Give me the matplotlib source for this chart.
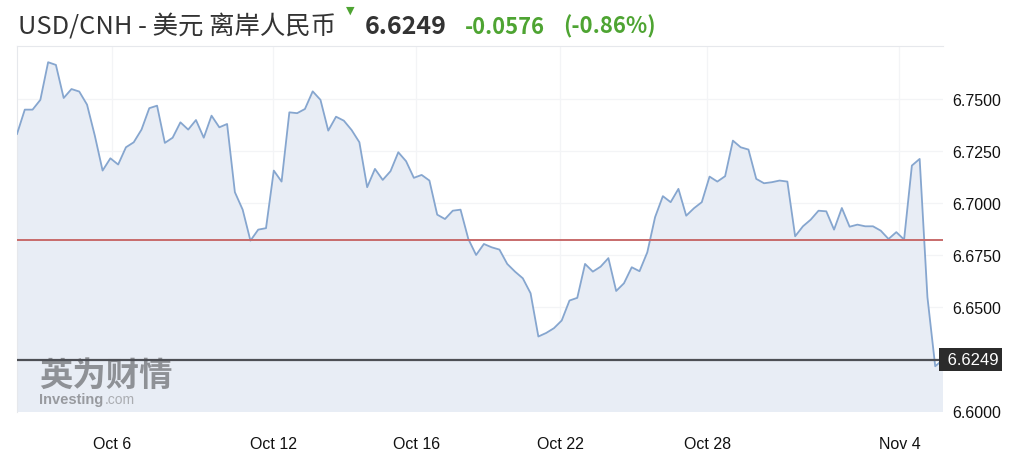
import matplotlib
matplotlib.use("Agg")
import matplotlib.pyplot as plt
import numpy as np

plt.rcParams['font.family'] = ['Liberation Sans', 'DejaVu Sans']

# USD/CNH, roughly 4-hour closes from early Oct to Nov 4
prices = [
    6.7334, 6.7451, 6.7451, 6.7498, 6.7679, 6.7666, 6.7507, 6.7550, 6.7538, 6.7475,
    6.7326, 6.7158, 6.7217, 6.7187, 6.7270, 6.7294, 6.7355, 6.7458, 6.7470, 6.7291,
    6.7316, 6.7390, 6.7355, 6.7401, 6.7316, 6.7422, 6.7366, 6.7382, 6.7054, 6.6970,
    6.6821, 6.6874, 6.6881, 6.7158, 6.7105, 6.7438, 6.7434, 6.7454, 6.7539, 6.7498,
    6.7350, 6.7417, 6.7398, 6.7353, 6.7294, 6.7078, 6.7166, 6.7113, 6.7155, 6.7246,
    6.7203, 6.7123, 6.7137, 6.7110, 6.6946, 6.6925, 6.6965, 6.6970, 6.6829, 6.6752,
    6.6805, 6.6789, 6.6778, 6.6709, 6.6672, 6.6640, 6.6568, 6.6360, 6.6377, 6.6400,
    6.6437, 6.6533, 6.6546, 6.6709, 6.6672, 6.6696, 6.6737, 6.6579, 6.6616, 6.6693,
    6.6674, 6.6765, 6.6934, 6.7035, 6.7006, 6.7070, 6.6941, 6.6977, 6.7006, 6.7129,
    6.7105, 6.7131, 6.7302, 6.7270, 6.7259, 6.7118, 6.7097, 6.7102, 6.7110, 6.7105,
    6.6842, 6.6890, 6.6922, 6.6965, 6.6962, 6.6874, 6.6978, 6.6888, 6.6898, 6.6890,
    6.6890, 6.6869, 6.6829, 6.6862, 6.6826, 6.7182, 6.7214, 6.6549, 6.6217, 6.6249,
]
prev_close = 6.6825
last_price = 6.6249
change = -0.0576
change_pct = -0.86

date_labels = ['Oct 6', 'Oct 12', 'Oct 16', 'Oct 22', 'Oct 28', 'Nov 4']
date_pos = [12.2, 32.9, 51.3, 69.8, 88.7, 113.4]
y_ticks = [6.60, 6.625, 6.65, 6.675, 6.70, 6.725, 6.75]

LINE = '#86a6cf'
FILL = '#e8edf5'
GREEN = '#4ea432'

fig = plt.figure(figsize=(10.36, 4.64), dpi=100)
ax = fig.add_axes([17 / 1036, 1 - 413 / 464, 926 / 1036, 366 / 464])

x = np.arange(len(prices))
ax.fill_between(x, prices, 6.5, color=FILL, lw=0, zorder=1)
ax.plot(x, prices, color=LINE, lw=1.3, zorder=3)
ax.axhline(prev_close, color='#c86b6b', lw=1.4, zorder=4)
ax.axhline(last_price, color='#4d4f55', lw=1.6, zorder=4)

ax.set_xlim(0, len(prices) - 1)
ax.set_ylim(6.5997, 6.7757)

ax.set_xticks(date_pos)
ax.set_xticklabels(date_labels, fontsize=11.5)
ax.set_yticks(y_ticks)
ax.set_yticklabels(['%.4f' % v if abs(v - 6.625) > 1e-6 else '' for v in y_ticks], fontsize=11.5)
ax.yaxis.tick_right()
ax.tick_params(axis='both', length=0, colors='#111111')
ax.tick_params(axis='x', pad=17)
ax.tick_params(axis='y', pad=7)
ax.grid(True, color='#f3f4f6', lw=0.9, zorder=0)
ax.set_axisbelow(True)
for side in ['top', 'left']:
    ax.spines[side].set_color('#e6e8ec')
for side in ['bottom', 'right']:
    ax.spines[side].set_visible(False)

# current price tag
ax.text(1.0, last_price, ' %.4f' % last_price, transform=ax.get_yaxis_transform(),
        ha='left', va='center', fontsize=12, color='white',
        bbox=dict(boxstyle='square,pad=0.22', fc='#2b2b2b', ec='none'), zorder=6,
        clip_on=False)

# watermark
ax.text(0.024, 0.101, '英为财情', transform=ax.transAxes, fontsize=24, fontweight='bold',
        color='#7f8185', alpha=0.85, va='center', family=['Noto Sans CJK SC'], zorder=2)
ax.text(0.024, 0.036, 'Investing', transform=ax.transAxes, fontsize=10.5, fontweight='bold',
        color='#8a8c90', alpha=0.85, va='center', zorder=2)
ax.text(0.095, 0.036, '.com', transform=ax.transAxes, fontsize=10,
        color='#a0a2a6', alpha=0.85, va='center', zorder=2)

# header
fig.text(18 / 1036, 1 - 27 / 464, 'USD/CNH - 美元 离岸人民币', fontsize=18.3, color='#333333',
         va='center', family=['Noto Sans CJK SC', 'DejaVu Sans'])
fig.text(350 / 1036, 1 - 11 / 464, '▼', fontsize=8, color=GREEN, ha='center', va='center',
         family=['DejaVu Sans'])
fig.text(365 / 1036, 1 - 27 / 464, '%.4f' % last_price, fontsize=18, fontweight='bold',
         color='#333333', va='center', family=['Noto Sans CJK SC'])
fig.text(465 / 1036, 1 - 27 / 464, '%.4f' % change, fontsize=15.8, fontweight='bold',
         color=GREEN, va='center', family=['Noto Sans CJK SC'])
fig.text(563 / 1036, 1 - 27 / 464, '(%.2f%%)' % change_pct, fontsize=15.9, fontweight='bold',
         color=GREEN, va='center', family=['Noto Sans CJK SC'])

fig.savefig('out.png', dpi=100)
